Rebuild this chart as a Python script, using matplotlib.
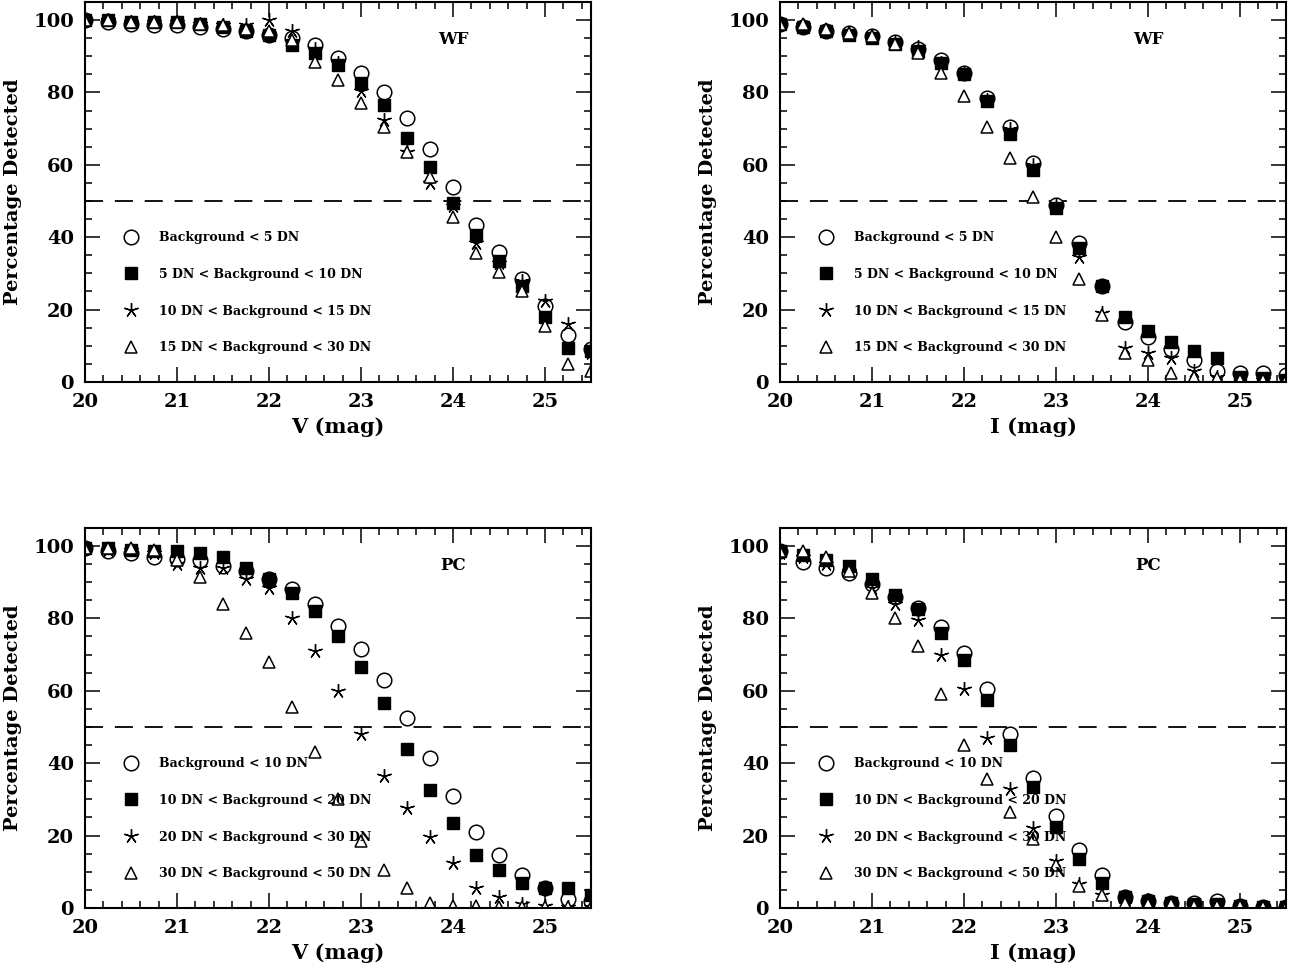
import matplotlib
matplotlib.use("Agg")
import matplotlib.pyplot as plt
from matplotlib.ticker import MultipleLocator

plt.rcParams['font.family'] = 'DejaVu Serif'
plt.rcParams['font.weight'] = 'bold'
plt.rcParams['lines.scale_dashes'] = False

mag = [20.0, 20.25, 20.5, 20.75, 21.0, 21.25, 21.5, 21.75, 22.0, 22.25, 22.5, 22.75,
       23.0, 23.25, 23.5, 23.75, 24.0, 24.25, 24.5, 24.75, 25.0, 25.25, 25.5]

# V band, WF chips
v_wf_1 = [100, 99.5, 99, 98.5, 98.5, 98, 97.5, 97, 96, 95, 93, 89.5, 85.5, 80, 73, 64.5, 54, 43.5, 36, 28.5, 21, 13, 9]
v_wf_2 = [100, 100, 99.5, 99.5, 99.5, 99, 98, 97, 96, 93, 91, 87.5, 82.5, 76.5, 67.5, 59.5, 49.5, 40.5, 33.5, 26.5, 18, 9.5, 8.5]
v_wf_3 = [100, 100, 99.5, 99.5, 99.5, 99, 98.5, 98.5, 100, 97, 92, 88, 80.5, 72.5, 63.5, 55, 48.5, 38.5, 33, 28, 22.5, 16, 8]
v_wf_4 = [100, 100, 99.5, 99.5, 99.5, 99, 98.5, 97.5, 97, 94.5, 88.5, 83.5, 77, 70.5, 63.5, 56.5, 45.5, 35.5, 30.5, 25, 15.5, 5, 3]

# I band, WF chips
i_wf_1 = [99, 98, 97, 96.5, 95.5, 94, 92, 89, 85.5, 78.5, 70.5, 60.5, 49, 38.5, 26.5, 16.5, 12.5, 9, 6, 3, 2.5, 2.5, 2]
i_wf_2 = [99, 98, 97, 96, 95, 93.5, 91.5, 88, 85, 77.5, 68.5, 58.5, 48, 37, 26.5, 18, 14, 11, 8.5, 6.5, 1.5, 1, 0.5]
i_wf_3 = [99, 98.5, 97, 96.5, 95.5, 94, 92.5, 88, 85, 78, 70, 60, 48.5, 34.5, 19, 9.5, 8, 6.5, 3, 1.5, 1, 0.5, 0.5]
i_wf_4 = [99, 99, 97.5, 96.5, 95.5, 93.5, 91, 85.5, 79, 70.5, 62, 51, 40, 28.5, 18.5, 8, 6, 2.5, 1.5, 1, 0.5, 0.5, 0.5]

# V band, PC chip
v_pc_1 = [99.5, 98.5, 98, 97, 96.5, 96, 94.5, 93, 91, 88, 84, 78, 71.5, 63, 52.5, 41.5, 31, 21, 14.5, 9, 5.5, 2.5, 2]
v_pc_2 = [99.5, 99.5, 99, 98.5, 98.5, 98, 97, 94, 91, 87, 82, 75, 66.5, 56.5, 44, 32.5, 23.5, 14.5, 10.5, 7, 5.5, 5.5, 3.5]
v_pc_3 = [99.5, 99, 99, 98, 95, 94, 94, 91, 88.5, 80, 71, 60, 48, 36.5, 27.5, 19.5, 12.5, 5.5, 3, 1, 0.5, 0.3, 0.3]
v_pc_4 = [99.5, 99.5, 99.5, 99, 96, 91.5, 84, 76, 68, 55.5, 43, 30, 18.5, 10.5, 5.5, 1.5, 0.5, 0.5, 0.3, 0.3, 0.3, 0.3, 0.3]

# I band, PC chip
i_pc_1 = [98.5, 95.5, 94, 92.5, 89.5, 86, 83, 77.5, 70.5, 60.5, 48, 36, 25.5, 16, 9, 3, 2, 1.5, 1.5, 2, 0.5, 0.3, 0.3]
i_pc_2 = [98.5, 97.5, 96, 94.5, 91, 86.5, 82.5, 76, 68.5, 57.5, 45, 33.5, 22.5, 13.5, 7, 3, 2, 1.5, 1, 1, 0.5, 0.3, 0.3]
i_pc_3 = [98, 97, 95, 93, 88.5, 84, 79.5, 70, 60.5, 47, 33, 22, 13, 6.5, 3.5, 1.5, 1, 1, 0.5, 0.5, 0.5, 0.3, 0.3]
i_pc_4 = [98.5, 98.5, 97, 93, 87, 80, 72.5, 59, 45, 35.5, 26.5, 19, 12, 6, 3.5, 1.5, 1, 1, 0.5, 0.5, 0.5, 0.3, 0.3]

wf_labels = ['Background < 5 DN', '5 DN < Background < 10 DN',
             '10 DN < Background < 15 DN', '15 DN < Background < 30 DN']
pc_labels = ['Background < 10 DN', '10 DN < Background < 20 DN',
             '20 DN < Background < 30 DN', '30 DN < Background < 50 DN']

styles = [dict(marker='o', ms=10.5, mfc='white', mec='k', mew=1.1),
          dict(marker='s', ms=8, mfc='k', mec='k', mew=1.0),
          dict(marker=(5, 2, 0), ms=10.5, mfc='k', mec='k', mew=1.0),
          dict(marker='^', ms=9, mfc='white', mec='k', mew=1.1)]

panels = [
    ([0.0659, 0.6058, 0.3926, 0.3922], [v_wf_1, v_wf_2, v_wf_3, v_wf_4], wf_labels, 'WF', 'V (mag)'),
    ([0.6051, 0.6058, 0.3926, 0.3922], [i_wf_1, i_wf_2, i_wf_3, i_wf_4], wf_labels, 'WF', 'I (mag)'),
    ([0.0659, 0.0630, 0.3926, 0.3922], [v_pc_1, v_pc_2, v_pc_3, v_pc_4], pc_labels, 'PC', 'V (mag)'),
    ([0.6051, 0.0630, 0.3926, 0.3922], [i_pc_1, i_pc_2, i_pc_3, i_pc_4], pc_labels, 'PC', 'I (mag)'),
]

fig = plt.figure(figsize=(12.89, 9.69), dpi=100)

for rect, series, labels, chip, xlab in panels:
    ax = fig.add_axes(rect)
    ax.axhline(50, color='k', lw=1.3, ls='--', dashes=(13, 8.5))
    for ys, lab, st in zip(series, labels, styles):
        ax.plot(mag, ys, ls='none', label=lab, **st)
    ax.set_xlim(20, 25.5)
    ax.set_ylim(0, 105)
    ax.xaxis.set_major_locator(MultipleLocator(1))
    ax.xaxis.set_minor_locator(MultipleLocator(0.2))
    ax.yaxis.set_major_locator(MultipleLocator(20))
    ax.yaxis.set_minor_locator(MultipleLocator(5))
    ax.tick_params(which='both', direction='in', top=True, right=True, width=1.1)
    ax.tick_params(which='major', length=10.5, labelsize=14, pad=8)
    ax.tick_params(which='minor', length=5)
    for sp in ax.spines.values():
        sp.set_linewidth(1.5)
    ax.set_xlabel(xlab, fontsize=15, fontweight='bold', labelpad=4)
    ax.set_ylabel('Percentage Detected', fontsize=14, fontweight='bold', labelpad=8)
    ax.text(24.0, 94.5, chip, fontsize=12, fontweight='bold', ha='center', va='center')
    ax.legend(loc='upper left', bbox_to_anchor=(0.078, 0.397), frameon=False,
              numpoints=1, handlelength=1.0, handletextpad=1.75, labelspacing=1.9,
              borderpad=0, borderaxespad=0, prop=dict(size=9, weight='bold'))

fig.savefig('out.png', dpi=100)
